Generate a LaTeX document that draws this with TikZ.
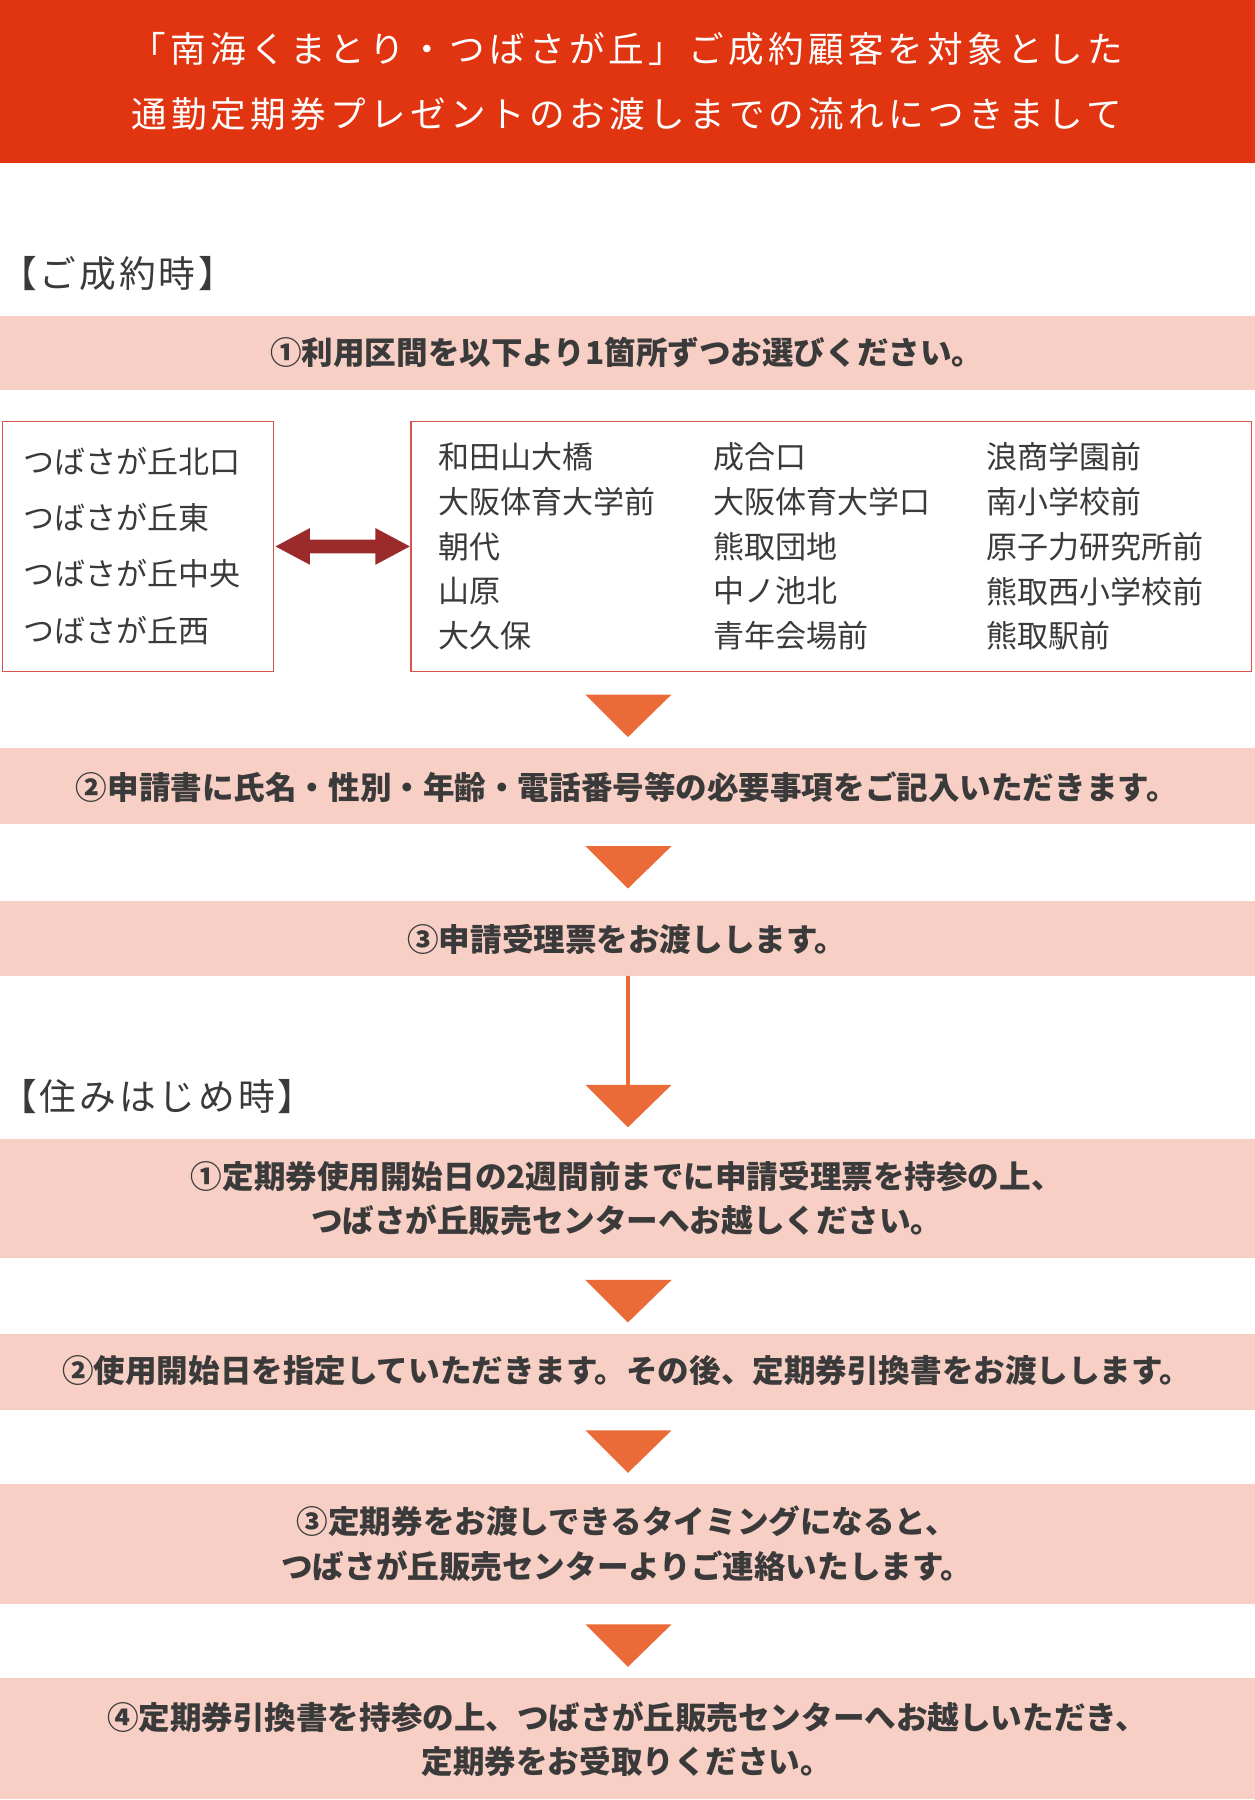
\documentclass[tikz,border=0pt]{standalone}
\usepackage{fontspec}
\setmainfont{Noto Sans CJK JP}
\newfontfamily\hdrfont{Noto Sans CJK JP}[LetterSpace=12]
\newfontfamily\secfont{Noto Sans CJK JP}[LetterSpace=8]
\definecolor{hdr}{HTML}{E03510}
\definecolor{pnk}{HTML}{F7CFC5}
\definecolor{tri}{HTML}{EA6A38}
\definecolor{brd}{HTML}{D9534F}
\definecolor{dar}{HTML}{9B2B2B}
\definecolor{txt}{HTML}{3A3A3A}
\begin{document}
\begin{tikzpicture}[x=1pt,y=-1pt,
 pbox/.style={fill=pnk,draw=none},
 stxt/.style={font=\fontsize{27.5}{39}\selectfont\bfseries,text=txt,align=center},
 stn/.style={font=\fontsize{27}{30}\selectfont,text=txt,anchor=west,inner sep=0},
 trg/.style={fill=tri,draw=none}]
\useasboundingbox (0,0) rectangle (1093,1568);
\fill[hdr] (0,0) rectangle (1093,142);
\node[font=\hdrfont\fontsize{31}{56}\selectfont,text=white,align=center] (h) at (546,71) {「南海くまとり・つばさが丘」ご成約顧客を対象とした\\通勤定期券プレゼントのお渡しまでの流れにつきまして};
\node[font=\secfont\fontsize{32}{36}\selectfont,text=txt,anchor=west,inner sep=0] (s1) at (0,238) {【ご成約時】};
\fill[pbox] (0,275) rectangle (1093,340);
\node[stxt] (b1) at (546,307) {①利用区間を以下より1箇所ずつお選びください。};
\draw[brd,line width=1pt] (2,367) rectangle (238,585);
\draw[brd,line width=1pt] (358,367) rectangle (1090,585);
\node[stn] at (20,402) {つばさが丘北口};
\node[stn] at (20,451) {つばさが丘東};
\node[stn] at (20,500) {つばさが丘中央};
\node[stn] at (20,549) {つばさが丘西};
\foreach \a/\b/\c [count=\i] in {和田山大橋/成合口/浪商学園前,大阪体育大学前/大阪体育大学口/南小学校前,朝代/熊取団地/原子力研究所前,山原/中ノ池北/熊取西小学校前,大久保/青年会場前/熊取駅前}{
 \node[stn] at (382,359+39*\i) {\a};
 \node[stn] at (621,359+39*\i) {\b};
 \node[stn] at (859,359+39*\i) {\c};}
\fill[dar] (240,476) -- (270,460) -- (270,470) -- (327,470) -- (327,460) -- (357,476) -- (327,492) -- (327,482) -- (270,482) -- (270,492) -- cycle;
\fill[trg] (510,605) -- (585,605) -- (547,642) -- cycle;
\fill[pbox] (0,652) rectangle (1093,718);
\node[stxt] (b2) at (546,686) {②申請書に氏名・性別・年齢・電話番号等の必要事項をご記入いただきます。};
\fill[trg] (510,737) -- (585,737) -- (547,774) -- cycle;
\fill[pbox] (0,785) rectangle (1093,850);
\node[stxt] (b3) at (546,818) {③申請受理票をお渡しします。};
\draw[tri,line width=3pt] (547,850) -- (547,950);
\fill[trg] (510,945) -- (585,945) -- (547,982) -- cycle;
\node[font=\secfont\fontsize{32}{36}\selectfont,text=txt,anchor=west,inner sep=0] (s2) at (0,955) {【住みはじめ時】};
\fill[pbox] (0,992) rectangle (1093,1096);
\node[stxt] (b4) at (546,1044) {①定期券使用開始日の2週間前までに申請受理票を持参の上、\\つばさが丘販売センターへお越しください。};
\fill[trg] (510,1115) -- (585,1115) -- (547,1152) -- cycle;
\fill[pbox] (0,1162) rectangle (1093,1228);
\node[stxt] (b5) at (546,1194) {②使用開始日を指定していただきます。その後、定期券引換書をお渡しします。};
\fill[trg] (510,1246) -- (585,1246) -- (547,1283) -- cycle;
\fill[pbox] (0,1293) rectangle (1093,1397);
\node[stxt] (b6) at (546,1345) {③定期券をお渡しできるタイミングになると、\\つばさが丘販売センターよりご連絡いたします。};
\fill[trg] (510,1415) -- (585,1415) -- (547,1452) -- cycle;
\fill[pbox] (0,1462) rectangle (1093,1567);
\node[stxt] (b7) at (546,1515) {④定期券引換書を持参の上、つばさが丘販売センターへお越しいただき、\\定期券をお受取りください。};
\end{tikzpicture}
\end{document}
